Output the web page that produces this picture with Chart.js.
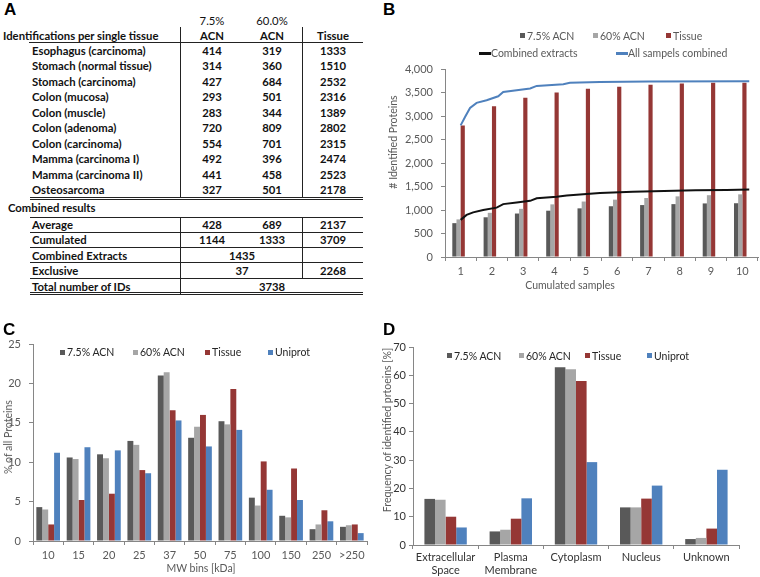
<!DOCTYPE html>
<html>
<head>
<meta charset="utf-8">
<script src="https://cdn.jsdelivr.net/npm/chart.js@4.4.1/dist/chart.umd.min.js"></script>
<style>
  body { margin: 0; background: #fff; }
  #fig { position: relative; width: 760px; height: 577px; overflow: hidden; font-family: Lato, "Liberation Sans", sans-serif; }
  .abs { position: absolute; white-space: nowrap; }
  .tbl { font-size: 11.3px; font-weight: bold; color: #111; line-height: 16px; }
  .tbl.light { font-weight: normal; }
  .panel { font-family: "Liberation Sans", Arial, sans-serif; font-weight: bold; font-size: 17px; line-height: 20px; color: #000; }
  .leg { font-size: 10.5px; line-height: 14px; }
  .ytitle { font-size: 10.5px; color: #595959; line-height: 14px; }
  canvas { position: absolute; }
</style>
</head>
<body>
<div id="fig">
  <canvas id="chartB" width="380" height="280" style="left:380px;top:20px"></canvas>
  <canvas id="chartC" width="380" height="257" style="left:0px;top:320px"></canvas>
  <canvas id="chartD" width="380" height="257" style="left:380px;top:320px"></canvas>
</div>
<script>
// --- A: identification table ---
const tissueNames = ["Esophagus (carcinoma)", "Stomach (normal tissue)", "Stomach (carcinoma)", "Colon (mucosa)",
  "Colon (muscle)", "Colon (adenoma)", "Colon (carcinoma)", "Mamma (carcinoma I)", "Mamma (carcinoma II)", "Osteosarcoma"];
const idsAcn75 = [414, 314, 427, 293, 283, 720, 554, 492, 441, 327];
const idsAcn60 = [319, 360, 684, 501, 344, 809, 701, 396, 458, 501];
const idsTissue = [1333, 1510, 2532, 2316, 1389, 2802, 2315, 2474, 2523, 2178];
const averageIds = [428, 689, 2137];
const cumulatedIds = [1144, 1333, 3709];
const combinedExtractIds = 1435;
const exclusiveIds = [37, 2268];
const totalIds = 3738;

// --- B: cumulated samples ---
const sampleLabels = ["1", "2", "3", "4", "5", "6", "7", "8", "9", "10"];
const cumAcn75 = [720, 845, 925, 985, 1035, 1080, 1105, 1125, 1140, 1144];
const cumAcn60 = [800, 940, 1025, 1120, 1180, 1220, 1255, 1290, 1315, 1333];
const cumTissue = [2800, 3210, 3390, 3500, 3580, 3625, 3665, 3690, 3705, 3709];
const combExtX = [1, 1.19, 1.4, 1.72, 2.15, 2.36, 2.79, 3.22, 3.43, 4.07, 4.39, 5.45, 6.5, 7.5, 8.5, 9.5, 10.22];
const combExtY = [790, 895, 950, 1000, 1050, 1125, 1160, 1195, 1250, 1280, 1310, 1362, 1390, 1405, 1418, 1428, 1435];
const allSampX = [1, 1.14, 1.3, 1.51, 1.83, 2.2, 2.36, 2.79, 3.22, 3.43, 4.28, 4.49, 5.45, 7, 10.22];
const allSampY = [2800, 2980, 3170, 3280, 3335, 3420, 3510, 3550, 3585, 3640, 3675, 3705, 3725, 3735, 3738];

// --- C: MW bins ---
const mwBins = ["10", "15", "20", "25", "37", "50", "75", "100", "150", "250", ">250"];
const mwAcn75 = [4.3, 10.6, 11.0, 12.7, 21.0, 13.1, 15.2, 5.5, 3.2, 1.5, 1.8];
const mwAcn60 = [4.0, 10.4, 10.5, 12.2, 21.4, 14.5, 14.8, 4.5, 3.0, 2.1, 2.0];
const mwTissue = [2.1, 5.2, 6.0, 9.0, 16.6, 16.0, 19.3, 10.1, 9.2, 3.9, 2.1];
const mwUniprot = [11.2, 11.9, 11.5, 8.6, 15.3, 12.0, 14.1, 6.5, 5.2, 2.5, 1.0];

// --- D: localisation ---
const locLabels = [["Extracellular", "Space"], ["Plasma", "Membrane"], "Cytoplasm", "Nucleus", "Unknown"];
const locAcn75 = [16.3, 4.8, 62.8, 13.3, 2.1];
const locAcn60 = [16.0, 5.4, 62.1, 13.3, 2.5];
const locTissue = [10.0, 9.3, 58.0, 16.4, 5.8];
const locUniprot = [6.2, 16.5, 29.3, 21.0, 26.6];

const colDark = "#595959", colGrey = "#a6a6a6", colRed = "#953735", colBlue = "#4f81bd";
const axisGrey = "#868686";
const fontFam = 'Lato, "Liberation Sans", sans-serif';

const fig = document.getElementById("fig");

function addText(str, x, y, cls, center) {
  const d = document.createElement("div");
  d.className = "abs " + (cls || "");
  d.textContent = str;
  d.style.left = x + "px";
  d.style.top = (y - 8) + "px";
  if (center) d.style.transform = "translateX(-50%)";
  fig.appendChild(d);
  return d;
}
function hLine(x1, x2, y) {
  const d = document.createElement("div");
  d.className = "abs";
  Object.assign(d.style, { left: x1 + "px", top: y + "px", width: (x2 - x1) + "px", height: "1px", background: "#222" });
  fig.appendChild(d);
}
function vLine(x, y1, y2) {
  const d = document.createElement("div");
  d.className = "abs";
  Object.assign(d.style, { left: x + "px", top: y1 + "px", width: "1px", height: (y2 - y1) + "px", background: "#222" });
  fig.appendChild(d);
}
function legendItem(x, y, color, text, kind, textColor) {
  const m = document.createElement("div");
  m.className = "abs";
  if (kind === "line") {
    Object.assign(m.style, { left: x + "px", top: (y - 1) + "px", width: "12px", height: "2.5px", background: color });
  } else {
    Object.assign(m.style, { left: x + "px", top: (y - 2.5) + "px", width: "5px", height: "5px", background: color });
  }
  fig.appendChild(m);
  const t = document.createElement("div");
  t.className = "abs leg";
  t.textContent = text;
  t.style.left = (x + (kind === "line" ? 12 : 7)) + "px";
  t.style.top = (y - 7) + "px";
  t.style.color = textColor;
  fig.appendChild(t);
}
function yTitle(text, cx, cy) {
  const d = document.createElement("div");
  d.className = "abs ytitle";
  d.textContent = text;
  Object.assign(d.style, { left: cx + "px", top: cy + "px", transform: "translate(-50%,-50%) rotate(-90deg)" });
  fig.appendChild(d);
}
function xTitle(text, cx, cy) {
  const d = document.createElement("div");
  d.className = "abs ytitle";
  d.textContent = text;
  Object.assign(d.style, { left: cx + "px", top: cy + "px", transform: "translate(-50%,-50%)" });
  fig.appendChild(d);
}

// panel letters
[["A", 4, 0], ["B", 383, 0], ["C", 3, 320], ["D", 383, 320]].forEach(p => {
  const d = document.createElement("div");
  d.className = "abs panel";
  d.textContent = p[0];
  d.style.left = p[1] + "px";
  d.style.top = p[2] + "px";
  fig.appendChild(d);
});

// table A
const colX = [212, 272, 333];
addText("7.5%", colX[0], 20.7, "tbl light", true);
addText("60.0%", colX[1], 20.7, "tbl light", true);
addText("Identifications per single tissue", 3, 36, "tbl");
addText("ACN", colX[0], 36, "tbl", true);
addText("ACN", colX[1], 36, "tbl", true);
addText("Tissue", colX[2], 36, "tbl", true);
hLine(29, 363, 42);
vLine(180, 27, 198);
vLine(302, 27, 198);
tissueNames.forEach((name, i) => {
  const y = 51 + i * 15.45;
  addText(name, 32, y, "tbl");
  addText(String(idsAcn75[i]), colX[0], y, "tbl", true);
  addText(String(idsAcn60[i]), colX[1], y, "tbl", true);
  addText(String(idsTissue[i]), colX[2], y, "tbl", true);
});
hLine(30, 363, 197);
hLine(30, 363, 199);
addText("Combined results", 8, 208.3, "tbl");
hLine(30, 363, 217);
addText("Average", 32, 225, "tbl");
averageIds.forEach((v, i) => addText(String(v), colX[i], 225, "tbl", true));
hLine(30, 363, 232);
addText("Cumulated", 32, 239.5, "tbl");
cumulatedIds.forEach((v, i) => addText(String(v), colX[i], 239.5, "tbl", true));
hLine(30, 363, 247);
addText("Combined Extracts", 32, 255.5, "tbl");
addText(String(combinedExtractIds), 242, 255.5, "tbl", true);
hLine(30, 363, 262);
addText("Exclusive", 32, 271, "tbl");
addText(String(exclusiveIds[0]), 242, 271, "tbl", true);
addText(String(exclusiveIds[1]), colX[2], 271, "tbl", true);
hLine(30, 363, 278);
addText("Total number of IDs", 32, 286.5, "tbl");
addText(String(totalIds), colX[1], 286.5, "tbl", true);
hLine(30, 363, 292);
hLine(30, 363, 294);
vLine(180, 217, 294);
vLine(302, 217, 278);

// shared axis options
function yAxis(max, step, width, tickLen, pad, color, fmt) {
  return {
    min: 0, max: max,
    afterFit: s => { s.width = width; },
    border: { color: axisGrey },
    grid: { drawOnChartArea: false, tickLength: tickLen, color: axisGrey },
    ticks: { stepSize: step, padding: pad, color: color, font: { family: fontFam, size: 11 }, callback: fmt || (v => v) }
  };
}
function xAxis(height, pad, color) {
  return {
    type: "category",
    afterFit: s => { s.height = height; },
    border: { color: axisGrey },
    grid: { offset: true, drawOnChartArea: false, tickLength: 4, color: axisGrey },
    ticks: { padding: pad, color: color, maxRotation: 0, autoSkip: false, font: { family: fontFam, size: 11 } }
  };
}
const basePlugins = { legend: { display: false }, tooltip: { enabled: false } };

// chart B
new Chart(document.getElementById("chartB"), {
  type: "bar",
  data: {
    labels: sampleLabels,
    datasets: [
      { type: "line", label: "Combined extracts", data: combExtX.map((x, i) => ({ x: x, y: combExtY[i] })),
        xAxisID: "xl", yAxisID: "y", borderColor: "#111", borderWidth: 2, pointRadius: 0, order: 0 },
      { type: "line", label: "All sampels combined", data: allSampX.map((x, i) => ({ x: x, y: allSampY[i] })),
        xAxisID: "xl", yAxisID: "y", borderColor: colBlue, borderWidth: 2, pointRadius: 0, order: 0 },
      { label: "7.5% ACN", data: cumAcn75, backgroundColor: colDark, order: 1 },
      { label: "60% ACN", data: cumAcn60, backgroundColor: colGrey, order: 1 },
      { label: "Tissue", data: cumTissue, backgroundColor: colRed, order: 1 }
    ]
  },
  options: {
    responsive: false,
    animation: false,
    layout: { padding: { top: 49, right: 2, left: 0, bottom: 0 } },
    datasets: { bar: { categoryPercentage: 0.8, barPercentage: 1.0 } },
    scales: {
      x: xAxis(43, 4, "#595959"),
      xl: { type: "linear", axis: "x", position: "bottom", display: false, min: 0.5, max: 10.5,
            offset: false, bounds: "data", grace: 0, grid: { offset: false } },
      y: yAxis(4000, 500, 65, 4, 8, "#595959", v => v.toLocaleString("en-US"))
    },
    plugins: basePlugins
  }
});
legendItem(520, 35.7, colDark, "7.5% ACN", "box", "#595959");
legendItem(593, 35.7, colGrey, "60% ACN", "box", "#595959");
legendItem(666, 35.7, colRed, "Tissue", "box", "#595959");
legendItem(479, 53.3, "#111", "Combined extracts", "line", "#595959");
legendItem(616, 53.3, colBlue, "All sampels combined", "line", "#595959");
yTitle("# Identified Proteins", 393, 142);
xTitle("Cumulated samples", 570, 285);

// chart C
new Chart(document.getElementById("chartC"), {
  type: "bar",
  data: {
    labels: mwBins,
    datasets: [
      { label: "7.5% ACN", data: mwAcn75, backgroundColor: colDark },
      { label: "60% ACN", data: mwAcn60, backgroundColor: colGrey },
      { label: "Tissue", data: mwTissue, backgroundColor: colRed },
      { label: "Uniprot", data: mwUniprot, backgroundColor: colBlue }
    ]
  },
  options: {
    responsive: false,
    animation: false,
    layout: { padding: { top: 24, right: 13, left: 0, bottom: 0 } },
    datasets: { bar: { categoryPercentage: 0.78, barPercentage: 1.0 } },
    scales: {
      x: xAxis(36, 4, "#595959"),
      y: yAxis(25, 5, 33, 4, 8, "#595959")
    },
    plugins: basePlugins
  }
});
legendItem(60, 352.3, colDark, "7.5% ACN", "box", "#262626");
legendItem(133, 352.3, colGrey, "60% ACN", "box", "#262626");
legendItem(205, 352.3, colRed, "Tissue", "box", "#262626");
legendItem(268, 352.3, colBlue, "Uniprot", "box", "#262626");
yTitle("% of all Proteins", 7.5, 437);
xTitle("MW bins [kDa]", 201, 568);

// chart D
new Chart(document.getElementById("chartD"), {
  type: "bar",
  data: {
    labels: locLabels,
    datasets: [
      { label: "7.5% ACN", data: locAcn75, backgroundColor: colDark },
      { label: "60% ACN", data: locAcn60, backgroundColor: colGrey },
      { label: "Tissue", data: locTissue, backgroundColor: colRed },
      { label: "Uniprot", data: locUniprot, backgroundColor: colBlue }
    ]
  },
  options: {
    responsive: false,
    animation: false,
    layout: { padding: { top: 27, right: 21, left: 0, bottom: 0 } },
    datasets: { bar: { categoryPercentage: 0.65, barPercentage: 1.0 } },
    scales: {
      x: xAxis(32, 2, "#333"),
      y: yAxis(70, 10, 33, 4, 3, "#333")
    },
    plugins: basePlugins
  }
});
legendItem(447, 355.7, colDark, "7.5% ACN", "box", "#262626");
legendItem(519, 355.7, colGrey, "60% ACN", "box", "#262626");
legendItem(585, 355.7, colRed, "Tissue", "box", "#262626");
legendItem(647, 355.7, colBlue, "Uniprot", "box", "#262626");
yTitle("Frequency of identified prtoeins [%]", 386.5, 430);
</script>
</body>
</html>
